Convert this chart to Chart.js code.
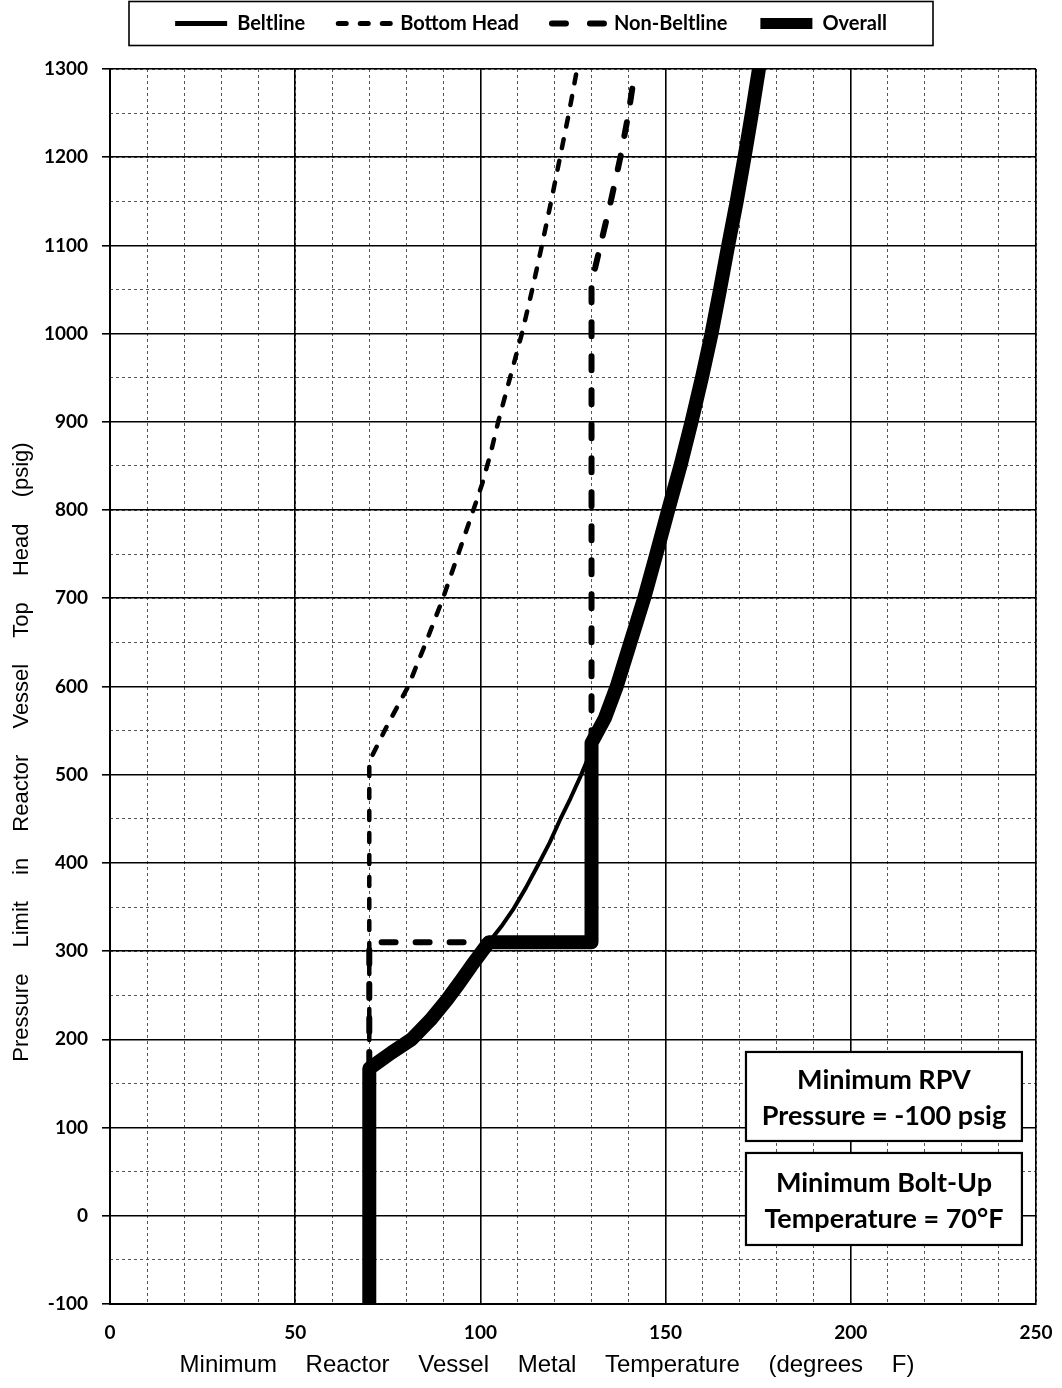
<!DOCTYPE html>
<html>
<head>
<meta charset="utf-8">
<script src="https://cdn.jsdelivr.net/npm/chart.js@4.4.1/dist/chart.umd.min.js"></script>
<style>
html,body{margin:0;padding:0;background:#fff;}
canvas{display:block;}
</style>
</head>
<body>
<canvas id="c" width="1062" height="1388"></canvas>
<script>
// ---------------- DATA ----------------
const seriesNames = ['Beltline', 'Bottom Head', 'Non-Beltline', 'Overall'];

const beltlineT = [70, 70, 76, 81.4, 86.5, 91, 94.5, 97.5, 100.5, 102.3, 106, 108.8, 112.3, 115.6, 118.7, 121.5, 124.3, 126.9, 129.2, 130.5, 133.6, 136.8, 140.5, 144.2, 147.5, 150.7, 154, 157, 159.8, 162.4, 164.7, 166.9, 169.2, 171.3, 173.3, 175.2];
const beltlineP = [-100, 167, 185, 200, 222, 245, 265, 283, 300, 310, 330, 347, 372, 398, 423, 449, 473, 497, 520, 536, 564, 600, 650, 700, 750, 800, 850, 900, 950, 1000, 1050, 1100, 1150, 1200, 1250, 1300];

const bottomHeadT = [70, 70, 75, 80.5, 85.3, 89.9, 94, 98.1, 100.5, 102.8, 104.8, 108, 111.2, 114, 116.6, 119.1, 121.5, 123.9, 126.1];
const bottomHeadP = [-100, 515, 557, 600, 650, 700, 750, 800, 830, 865, 900, 950, 1000, 1050, 1100, 1150, 1200, 1250, 1300];

const nonBeltlineT = [70, 70, 130, 130, 131, 132.4, 135.2, 137.8, 140, 141.8];
const nonBeltlineP = [-100, 310, 310, 1060, 1075, 1100, 1150, 1200, 1250, 1300];

const overallT = [70, 70, 76, 81.4, 86.5, 91, 94.5, 97.5, 100.5, 102.3, 130, 130, 133.6, 136.8, 140.5, 144.2, 147.5, 150.7, 154, 157, 159.8, 162.4, 164.7, 166.9, 169.2, 171.3, 173.3, 175.2];
const overallP = [-100, 167, 185, 200, 222, 245, 265, 283, 300, 310, 310, 536, 564, 600, 650, 700, 750, 800, 850, 900, 950, 1000, 1050, 1100, 1150, 1200, 1250, 1300];

const xTickValues = [0, 50, 100, 150, 200, 250];
const yTickValues = [-100, 0, 100, 200, 300, 400, 500, 600, 700, 800, 900, 1000, 1100, 1200, 1300];

const xTitle = 'Minimum Reactor Vessel Metal Temperature (degrees F)';
const yTitle = 'Pressure Limit in Reactor Vessel Top Head (psig)';
const noteRPV = ['Minimum RPV', 'Pressure = -100 psig'];
const noteBolt = ['Minimum Bolt-Up', 'Temperature = 70°F'];

// ---------------- STYLES ----------------
const lineStyles = [
  {width: 4, dash: [], legendWidth: 5, legendDash: []},
  {width: 4.5, dash: [9, 13], legendWidth: 5, legendDash: [8, 14]},
  {width: 6, dash: [14, 20], legendWidth: 6, legendDash: [14, 24]},
  {width: 14, dash: [], legendWidth: 11, legendDash: []}
];
const notes = [
  {lines: noteRPV, x0: 171.7, x1: 246.2, y0: 185.7, y1: 84.8},
  {lines: noteBolt, x0: 171.7, x1: 246.2, y0: 71.2, y1: -33.1}
];

function pts(T, P) { return T.map((t, i) => ({x: t, y: P[i]})); }
const seriesData = [pts(beltlineT, beltlineP), pts(bottomHeadT, bottomHeadP), pts(nonBeltlineT, nonBeltlineP), pts(overallT, overallP)];

const datasets = seriesNames.map((name, i) => ({
  label: name,
  data: seriesData[i],
  borderColor: '#000',
  backgroundColor: '#000',
  borderWidth: lineStyles[i].width,
  borderDash: lineStyles[i].dash,
  borderCapStyle: 'round',
  borderJoinStyle: 'round',
  pointRadius: 0,
  pointHoverRadius: 0,
  fill: false,
  tension: 0,
  xAxisID: 'x',
  yAxisID: 'y'
}));

const decor = {
  id: 'decor',
  afterDraw(chart) {
    const ctx = chart.ctx;
    const xs = chart.scales.x, ys = chart.scales.y;
    ctx.save();
    // legend frame
    const lg = chart.legend;
    const hb = lg.legendHitBoxes[0];
    const cy = hb.top + hb.height / 2;
    const cx = (lg.left + lg.right) / 2;
    ctx.strokeStyle = '#000';
    ctx.lineWidth = 1.6;
    ctx.strokeRect(cx - 402, cy - 22, 804, 44);

    // note boxes
    notes.forEach(n => {
      const l = xs.getPixelForValue(n.x0), r = xs.getPixelForValue(n.x1);
      const t = ys.getPixelForValue(n.y0), b = ys.getPixelForValue(n.y1);
      ctx.fillStyle = '#fff';
      ctx.fillRect(l, t, r - l, b - t);
      ctx.lineWidth = 2.2;
      ctx.strokeStyle = '#000';
      ctx.strokeRect(l, t, r - l, b - t);
      ctx.fillStyle = '#000';
      ctx.font = 'bold 27px Lato';
      ctx.textAlign = 'center';
      ctx.textBaseline = 'middle';
      const mx = (l + r) / 2, my = (t + b) / 2;
      ctx.fillText(n.lines[0], mx, my - 16);
      ctx.fillText(n.lines[1], mx, my + 20);
    });

    // axis titles
    ctx.fillStyle = '#000';
    ctx.textAlign = 'center';
    ctx.textBaseline = 'middle';
    try { ctx.wordSpacing = '22px'; } catch (e) {}
    ctx.font = '24px "Liberation Sans"';
    ctx.fillText(xTitle, 547, 1365);
    ctx.translate(22, 752);
    ctx.rotate(-Math.PI / 2);
    ctx.font = '22px "Liberation Sans"';
    try { ctx.wordSpacing = '20px'; } catch (e) {}
    ctx.fillText(yTitle, 0, 0);
    try { ctx.wordSpacing = '0px'; } catch (e) {}
    ctx.restore();
  }
};

const tickFont = {family: 'Lato', size: 19, weight: 'bold'};
const noPad = (s) => { s.paddingLeft = 0; s.paddingRight = 0; s.paddingTop = 0; s.paddingBottom = 0; };

new Chart(document.getElementById('c'), {
  type: 'line',
  data: {datasets},
  plugins: [decor],
  options: {
    responsive: false,
    animation: false,
    events: [],
    layout: {padding: {top: -19.5, left: 0, right: 0, bottom: 0}},
    plugins: {
      tooltip: {enabled: false},
      legend: {
        display: true,
        position: 'top',
        labels: {
          color: '#000',
          font: {family: 'Lato', size: 20, weight: 'bold'},
          padding: 33,
          usePointStyle: true,
          pointStyleWidth: 52,
          boxHeight: 20,
          generateLabels: (chart) => chart.data.datasets.map((ds, i) => ({
            text: ds.label,
            fillStyle: 'rgba(0,0,0,0)',
            strokeStyle: '#000',
            fontColor: '#000',
            lineWidth: lineStyles[i].legendWidth,
            lineDash: lineStyles[i].legendDash,
            lineCap: lineStyles[i].legendDash.length ? 'round' : 'butt',
            pointStyle: 'line',
            hidden: false,
            datasetIndex: i
          }))
        }
      }
    },
    scales: {
      x2: {
        type: 'linear', position: 'top', min: 0, max: 250,
        ticks: {display: false, stepSize: 10},
        grid: {color: '#555', lineWidth: 1, drawTicks: false},
        border: {display: false, dash: [3, 3]},
        afterFit: (s) => { s.height = 25.5; noPad(s); }
      },
      y2: {
        type: 'linear', position: 'right', min: -100, max: 1300,
        ticks: {display: false, stepSize: 50},
        grid: {color: '#555', lineWidth: 1, drawTicks: false},
        border: {display: false, dash: [3, 3]},
        afterFit: (s) => { s.width = 26; noPad(s); }
      },
      x: {
        type: 'linear', position: 'bottom', min: 0, max: 250,
        afterBuildTicks: (s) => { s.ticks = xTickValues.map(v => ({value: v})); },
        ticks: {stepSize: 50, color: '#000', font: tickFont, padding: 17, maxRotation: 0, callback: (v) => String(v)},
        grid: {color: '#000', lineWidth: 1.6, drawTicks: false},
        border: {display: true, color: '#000', width: 2},
        afterFit: (s) => { s.height = 84; noPad(s); }
      },
      y: {
        type: 'linear', position: 'left', min: -100, max: 1300,
        afterBuildTicks: (s) => { s.ticks = yTickValues.map(v => ({value: v})); },
        ticks: {stepSize: 100, color: '#000', font: tickFont, padding: 14, callback: (v) => String(v)},
        grid: {color: '#000', lineWidth: 1.6, drawTicks: true, tickLength: 8, tickColor: '#000', tickWidth: 1.6},
        border: {display: true, color: '#000', width: 2},
        afterFit: (s) => { s.width = 110; noPad(s); }
      }
    }
  }
});
</script>
</body>
</html>
